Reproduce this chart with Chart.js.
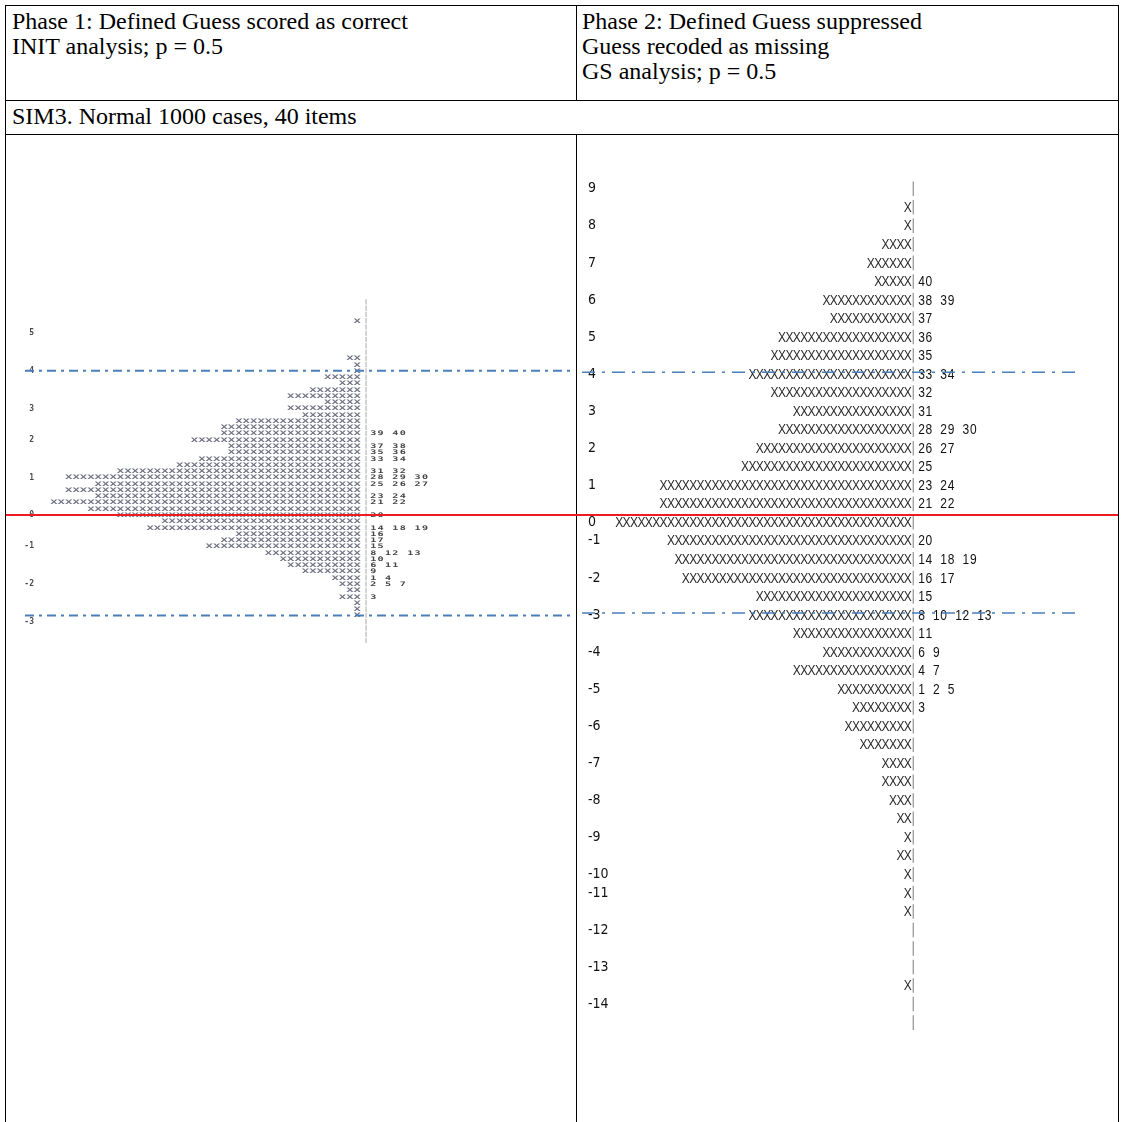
<!DOCTYPE html>
<html>
<head>
<meta charset="utf-8">
<title>SIM3 - Wright maps, INIT vs GS</title>
<script src="https://cdn.jsdelivr.net/npm/chart.js@4.4.0/dist/chart.umd.min.js"></script>
<style>
  html, body { margin: 0; padding: 0; background: #fff; }
  #page { position: relative; width: 1123px; height: 1122px; overflow: hidden;
          font-family: 'Liberation Serif', 'Times New Roman', serif; }
  .rule { position: absolute; background: #000; }
  .txt { position: absolute; font-size: 24px; line-height: 25px; color: #000; white-space: nowrap; }
  canvas { position: absolute; left: 0; top: 0; }
</style>
</head>
<body>
<div id="page">
  <!-- table rules -->
  <div class="rule" style="left:5px;top:5px;width:1114px;height:1px"></div>
  <div class="rule" style="left:5px;top:100px;width:1114px;height:1px"></div>
  <div class="rule" style="left:5px;top:134px;width:1114px;height:1px"></div>
  <div class="rule" style="left:5px;top:5px;width:1px;height:1117px"></div>
  <div class="rule" style="left:1118px;top:5px;width:1px;height:1117px"></div>
  <div class="rule" style="left:576px;top:5px;width:1px;height:95px"></div>
  <div class="rule" style="left:576px;top:134px;width:1px;height:988px"></div>

  <div class="txt" style="left:12px;top:9px">Phase 1: Defined Guess scored as correct<br>INIT analysis; p = 0.5</div>
  <div class="txt" style="left:582px;top:9px">Phase 2: Defined Guess suppressed<br>Guess recoded as missing<br>GS analysis; p = 0.5</div>
  <div class="txt" style="left:12px;top:104px">SIM3. Normal 1000 cases, 40 items</div>

  <canvas id="mapGS" width="1123" height="1122"></canvas>
  <canvas id="mapInit" width="1123" height="1122"></canvas>
</div>

<script>
// ---- Phase 1, INIT analysis: one entry per line of the map, top to bottom ----
const initLevels = [
  '', '', '', '', '', '5', '', '', '', '',
  '', '4', '', '', '', '', '', '3', '', '',
  '', '', '2', '', '', '', '', '', '1', '',
  '', '', '', '', '0', '', '', '', '', '-1',
  '', '', '', '', '', '-2', '', '', '', '',
  '', '-3', '', '', ''
];
const initPersons = [
  0, 0, 0, 1, 0, 0, 0, 0, 0, 2,
  1, 1, 5, 3, 7, 10, 5, 10, 8, 17,
  19, 19, 23, 18, 18, 22, 25, 33, 40, 36,
  40, 36, 42, 37, 33, 27, 29, 17, 19, 21,
  13, 11, 10, 8, 4, 3, 2, 3, 1, 1,
  1, 0, 0, 0, 0
];
const initItems = [
  '', '', '', '', '', '', '', '', '', '',
  '', '', '', '', '', '', '', '', '', '',
  '', '39 40', '', '37 38', '35 36', '33 34', '', '31 32', '28 29 30', '25 26 27',
  '', '23 24', '21 22', '', '20', '', '14 18 19', '16', '17', '15',
  '8 12 13', '10', '6 11', '9', '1 4', '2 5 7', '', '3', '', '',
  '', '', '', '', ''
];
const initZeroRow = 34;          // red line, logit 0
const initCutRows = [11, 50];    // dash-dot guides

// ---- Phase 2, GS analysis ----
const gsLevels = [
  '9', '', '8', '', '7', '', '6', '', '5', '',
  '4', '', '3', '', '2', '', '1', '', '0', '-1',
  '', '-2', '', '-3', '', '-4', '', '-5', '', '-6',
  '', '-7', '', '-8', '', '-9', '', '-10', '-11', '',
  '-12', '', '-13', '', '-14', ''
];
const gsPersons = [
  0, 1, 1, 4, 6, 5, 12, 11, 18, 19,
  22, 19, 16, 18, 21, 23, 34, 34, 40, 33,
  32, 31, 21, 22, 16, 12, 16, 10, 8, 9,
  7, 4, 4, 3, 2, 1, 2, 1, 1, 1,
  0, 0, 0, 1, 0, 0
];
const gsItems = [
  '', '', '', '', '', '40', '38 39', '37', '36', '35',
  '33 34', '32', '31', '28 29 30', '26 27', '25', '23 24', '21 22', '', '20',
  '14 18 19', '16 17', '15', '8 10 12 13', '11', '6 9', '4 7', '1 2 5', '3', '',
  '', '', '', '', '', '', '', '', '', '',
  '', '', '', '', '', ''
];
const gsCutRows = [9.9, 22.9];

// draws the text-map look: '|' column, X per person, item numbers, guide lines
const textMapPlugin = {
  id: 'textMap',
  afterDatasetsDraw(chart, args, opts) {
    const ctx = chart.ctx;
    const xs = chart.scales.x;
    const ys = chart.scales.y;
    const meta = chart.getDatasetMeta(0);
    const rowH = ys.getPixelForValue(1) - ys.getPixelForValue(0);

    ctx.save();

    // vertical '|' column
    const ax = xs.getPixelForValue(opts.axisAt);
    ctx.strokeStyle = opts.axisColor;
    ctx.lineWidth = opts.axisWidth;
    ctx.beginPath();
    for (let i = 0; i < opts.persons.length; i++) {
      const yc = ys.getPixelForValue(i);
      ctx.moveTo(ax, yc - rowH / 2 + opts.axisInset);
      ctx.lineTo(ax, yc + rowH / 2 - opts.axisInset);
    }
    ctx.stroke();

    ctx.textAlign = 'center';
    ctx.textBaseline = 'middle';

    // one X per person, laid from the bar base toward its end
    ctx.font = opts.xFont;
    ctx.fillStyle = opts.xColor;
    meta.data.forEach((bar, i) => {
      const n = opts.persons[i];
      if (!n) return;
      const step = (bar.base - bar.x) / n;
      for (let k = 0; k < n; k++) {
        ctx.save();
        ctx.translate(bar.base - (k + 0.5) * step, bar.y + opts.xShift);
        ctx.scale(opts.xScale[0], opts.xScale[1]);
        ctx.fillText('X', 0, 0);
        ctx.restore();
      }
    });

    // item numbers, monospaced cells to the right of '|'
    ctx.font = opts.itemFont;
    ctx.fillStyle = opts.itemColor;
    opts.items.forEach((txt, i) => {
      const yc = ys.getPixelForValue(i) + opts.itemShift;
      for (let j = 0; j < txt.length; j++) {
        if (txt[j] === ' ') continue;
        ctx.save();
        ctx.translate(xs.getPixelForValue(opts.itemAt + j + 0.5), yc);
        ctx.scale(opts.itemScale[0], opts.itemScale[1]);
        ctx.fillText(txt[j], 0, 0);
        ctx.restore();
      }
    });

    // guide lines
    opts.guides.forEach(g => {
      ctx.strokeStyle = g.color;
      ctx.lineWidth = g.width;
      ctx.setLineDash(g.dash || []);
      const y = ys.getPixelForValue(g.row);
      ctx.beginPath();
      ctx.moveTo(g.from, y);
      ctx.lineTo(g.to, y);
      ctx.stroke();
    });

    ctx.restore();
  }
};

function makeMap(canvasId, levels, persons, items, geo, look) {
  const rows = levels.length;
  const left = geo.zeroX + geo.xMin * geo.unit;
  const right = geo.zeroX + geo.xMax * geo.unit;
  const bottom = geo.top + rows * geo.rowH;
  const axisLeft = geo.labelAlign === 'far' ? geo.labelX : 0;

  return new Chart(document.getElementById(canvasId), {
    type: 'bar',
    data: {
      labels: levels,
      datasets: [{
        data: persons.map(n => -n),
        backgroundColor: 'rgba(0,0,0,0)',
        borderWidth: 0
      }]
    },
    options: {
      indexAxis: 'y',
      responsive: false,
      animation: false,
      events: [],
      layout: {
        padding: { left: axisLeft, right: 1123 - right, top: geo.top, bottom: 1122 - bottom }
      },
      plugins: {
        legend: { display: false },
        tooltip: { enabled: false },
        textMap: Object.assign({ persons: persons, items: items }, look)
      },
      scales: {
        x: { type: 'linear', display: false, min: geo.xMin, max: geo.xMax },
        y: {
          type: 'category',
          offset: true,
          grid: { display: false, drawTicks: false },
          border: { display: false },
          ticks: {
            autoSkip: false,
            font: look.tickFont,
            color: look.tickColor,
            crossAlign: geo.labelAlign,
            padding: geo.labelAlign === 'far' ? 0 : left - geo.labelX
          },
          afterFit: scale => { scale.width = left - axisLeft; }
        }
      }
    },
    plugins: [textMapPlugin]
  });
}

makeMap('mapGS', gsLevels, gsPersons, gsItems,
  { zeroX: 911.5, unit: 7.4, xMin: -40.5, xMax: 14, top: 179.5, rowH: 18.53, labelX: 588, labelAlign: 'far' },
  {
    tickFont: { family: "'Liberation Sans Narrow', 'DejaVu Sans Condensed', 'Liberation Sans'", size: 14 },
    tickColor: '#111111',
    axisAt: 0.24, axisColor: '#9a9a9a', axisWidth: 1.3, axisInset: 2,
    xFont: "15px 'Liberation Sans', Arial, sans-serif", xColor: '#2b2b2b', xScale: [0.8, 1], xShift: 0.5,
    itemFont: "15px 'Liberation Sans', Arial, sans-serif", itemColor: '#111111', itemScale: [0.8, 1], itemShift: 0.5,
    itemAt: 0.85,
    guides: gsCutRows.map(r => ({ row: r, color: '#4a7ebb', width: 1.5, dash: [13, 7, 3, 7], from: 582, to: 1080 }))
  });

makeMap('mapInit', initLevels, initPersons, initItems,
  { zeroX: 361, unit: 7.4, xMin: -42, xMax: 14, top: 298.75, rowH: 6.27, labelX: 34, labelAlign: 'near' },
  {
    tickFont: { family: "'DejaVu Sans Mono', monospace", size: 8, weight: 'bold' },
    tickColor: '#4a4a4a',
    axisAt: 0.68, axisColor: '#a8a8a8', axisWidth: 1, axisInset: 0.5,
    xFont: "bold 7px 'DejaVu Sans Mono', monospace", xColor: '#707284', xScale: [1.75, 0.9], xShift: 0.3,
    itemFont: "bold 7px 'DejaVu Sans Mono', monospace", itemColor: '#454545', itemScale: [1.45, 0.9], itemShift: 0.3,
    itemAt: 1.15,
    guides: [
      { row: initZeroRow, color: '#ee1c1c', width: 2, from: 6, to: 1118 }
    ].concat(initCutRows.map(r => ({ row: r, color: '#4a7ebb', width: 2, dash: [9, 5, 3, 5], from: 25, to: 574 })))
  });
</script>
</body>
</html>
